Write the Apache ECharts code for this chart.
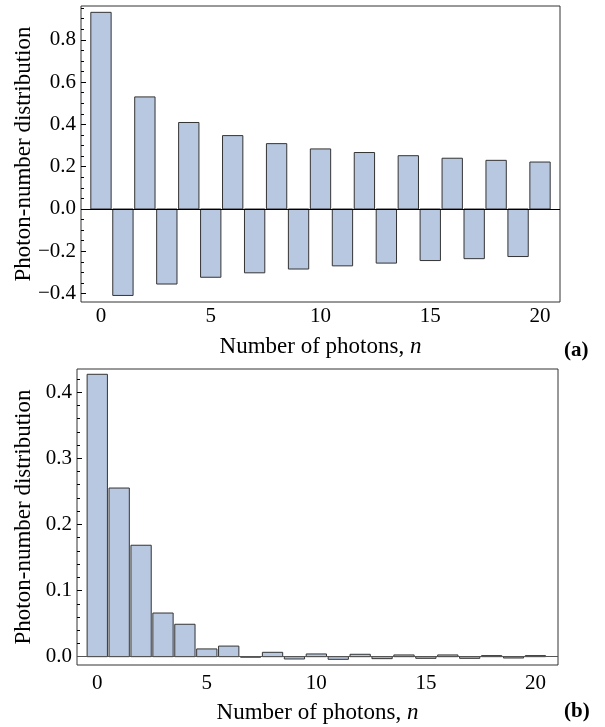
<!DOCTYPE html>
<html>
<head>
<meta charset="utf-8">
<script src="https://cdn.jsdelivr.net/npm/echarts@6/dist/echarts.min.js"></script>
<style>
html,body{margin:0;padding:0;background:#fff;}
#chart{width:605px;height:727px;}
</style>
</head>
<body>
<div id="chart"></div>
<script>
// ---- data ----
const photonNumbers = [0,1,2,3,4,5,6,7,8,9,10,11,12,13,14,15,16,17,18,19,20];
const distributionA = [0.930,-0.409,0.530,-0.355,0.409,-0.323,0.347,-0.302,0.309,-0.284,0.284,-0.269,0.267,-0.256,0.252,-0.244,0.240,-0.235,0.230,-0.225,0.222];
const distributionB = [0.427,0.255,0.1685,0.066,0.049,0.0117,0.0160,-0.0008,0.0066,-0.0035,0.0041,-0.0040,0.0036,-0.0030,0.0026,-0.0025,0.0026,-0.0025,0.0016,-0.0020,0.0016];
const xTickLabels = [0,5,10,15,20];
const yTicksA = [-0.4,-0.2,0.0,0.2,0.4,0.6,0.8];
const yMinorA = [-0.4,-0.35,-0.3,-0.25,-0.2,-0.15,-0.1,-0.05,0,0.05,0.1,0.15,0.2,0.25,0.3,0.35,0.4,0.45,0.5,0.55,0.6,0.65,0.7,0.75,0.8,0.85,0.9,0.95];
const yTicksB = [0.0,0.1,0.2,0.3,0.4];
const yMinorB = [0,0.02,0.04,0.06,0.08,0.1,0.12,0.14,0.16,0.18,0.2,0.22,0.24,0.26,0.28,0.3,0.32,0.34,0.36,0.38,0.4,0.42];
const xTitle = 'Number of photons, {i|n}';
const yTitle = 'Photon-number distribution';

const FONT = '"Liberation Serif", "DejaVu Serif", serif';
const TICK_FS = 21;
const TITLE_FS = 23;
const barFill = '#b9c8e1';
const barEdge = '#333333';
const HALF = 0.463;

function fmt(v){ return v.toFixed(1).replace('-', '\u2212'); }

function renderBar(params, api){
  const n = api.value(0), v = api.value(1);
  const p0 = api.coord([n - HALF, v]);
  const p1 = api.coord([n + HALF, 0]);
  const y = Math.min(p0[1], p1[1]);
  const h = Math.abs(p1[1] - p0[1]);
  return {type:'rect', shape:{x:p0[0], y:y, width:p1[0]-p0[0], height:h},
          style:{fill:barFill, stroke:barEdge, lineWidth:1}};
}

const chart = echarts.init(document.getElementById('chart'), null, {renderer:'canvas'});

function xAxisCfg(gi, min, max, margin, gap){
  return {type:'value', gridIndex:gi, min:min, max:max, position:'bottom',
    axisLine:{show:false, onZero:false}, axisTick:{show:false}, splitLine:{show:false},
    axisLabel:{customValues:xTickLabels, margin:margin, fontFamily:FONT, fontSize:TICK_FS, color:'#000'},
    name:xTitle, nameLocation:'middle', nameGap:gap, nameMoveOverlap:false,
    nameTextStyle:{fontFamily:FONT, fontSize:TITLE_FS, color:'#000', rich:{i:{fontFamily:FONT, fontSize:TITLE_FS, fontStyle:'italic', color:'#000'}}}};
}
function yAxisCfg(gi, min, max, ticks, gap){
  return {type:'value', gridIndex:gi, min:min, max:max, position:'left',
    axisLine:{show:false, onZero:false}, splitLine:{show:false},
    axisTick:{show:true, inside:true, length:5, customValues:ticks, lineStyle:{color:'#000', width:1}},
    axisLabel:{customValues:ticks, formatter:fmt, margin:5, fontFamily:FONT, fontSize:TICK_FS, color:'#000'},
    name:yTitle, nameLocation:'middle', nameGap:gap, nameMoveOverlap:false,
    nameTextStyle:{fontFamily:FONT, fontSize:TITLE_FS, color:'#000'}};
}
function yMinorCfg(gi, min, max, ticks){
  return {type:'value', gridIndex:gi, min:min, max:max, position:'left',
    axisLine:{show:false, onZero:false}, splitLine:{show:false}, axisLabel:{show:false},
    axisTick:{show:true, inside:true, length:3, customValues:ticks, lineStyle:{color:'#000', width:1}}};
}

const option = {
  backgroundColor:'#fff',
  animation:false,
  grid:[
    {left:81, top:6, width:479, height:296, show:true, borderColor:'#333', borderWidth:1, outerBoundsMode:'none'},
    {left:77, top:369, width:481, height:296, show:true, borderColor:'#333', borderWidth:1, outerBoundsMode:'none'}
  ],
  xAxis:[
    xAxisCfg(0, -0.91, 20.91, 4, 33),
    xAxisCfg(1, -0.925, 21.03, 8, 36)
  ],
  yAxis:[
    yAxisCfg(0, -0.44, 0.96, yTicksA, 46),
    yMinorCfg(0, -0.44, 0.96, yMinorA),
    yAxisCfg(1, -0.0126, 0.435, yTicksB, 42),
    yMinorCfg(1, -0.0126, 0.435, yMinorB)
  ],
  series:[
    {type:'custom', xAxisIndex:0, yAxisIndex:0, renderItem:renderBar, clip:false,
     data:photonNumbers.map((n,i)=>[n, distributionA[i]]),
     markLine:{silent:true, symbol:['none','none'], label:{show:false}, lineStyle:{color:'#000', width:1.2, type:'solid'}, data:[{yAxis:0}]}},
    {type:'custom', xAxisIndex:1, yAxisIndex:2, renderItem:renderBar, clip:false,
     data:photonNumbers.map((n,i)=>[n, distributionB[i]]),
     markLine:{silent:true, symbol:['none','none'], label:{show:false}, lineStyle:{color:'#555', width:1, type:'solid'}, data:[{yAxis:0}]}}
  ],
  graphic:[
    {type:'text', left:564, top:340, style:{text:'(a)', font:'bold 21px ' + FONT, fill:'#000'}},
    {type:'text', left:564, top:701, style:{text:'(b)', font:'bold 21px ' + FONT, fill:'#000'}}
  ]
};
chart.setOption(option);
</script>
</body>
</html>
